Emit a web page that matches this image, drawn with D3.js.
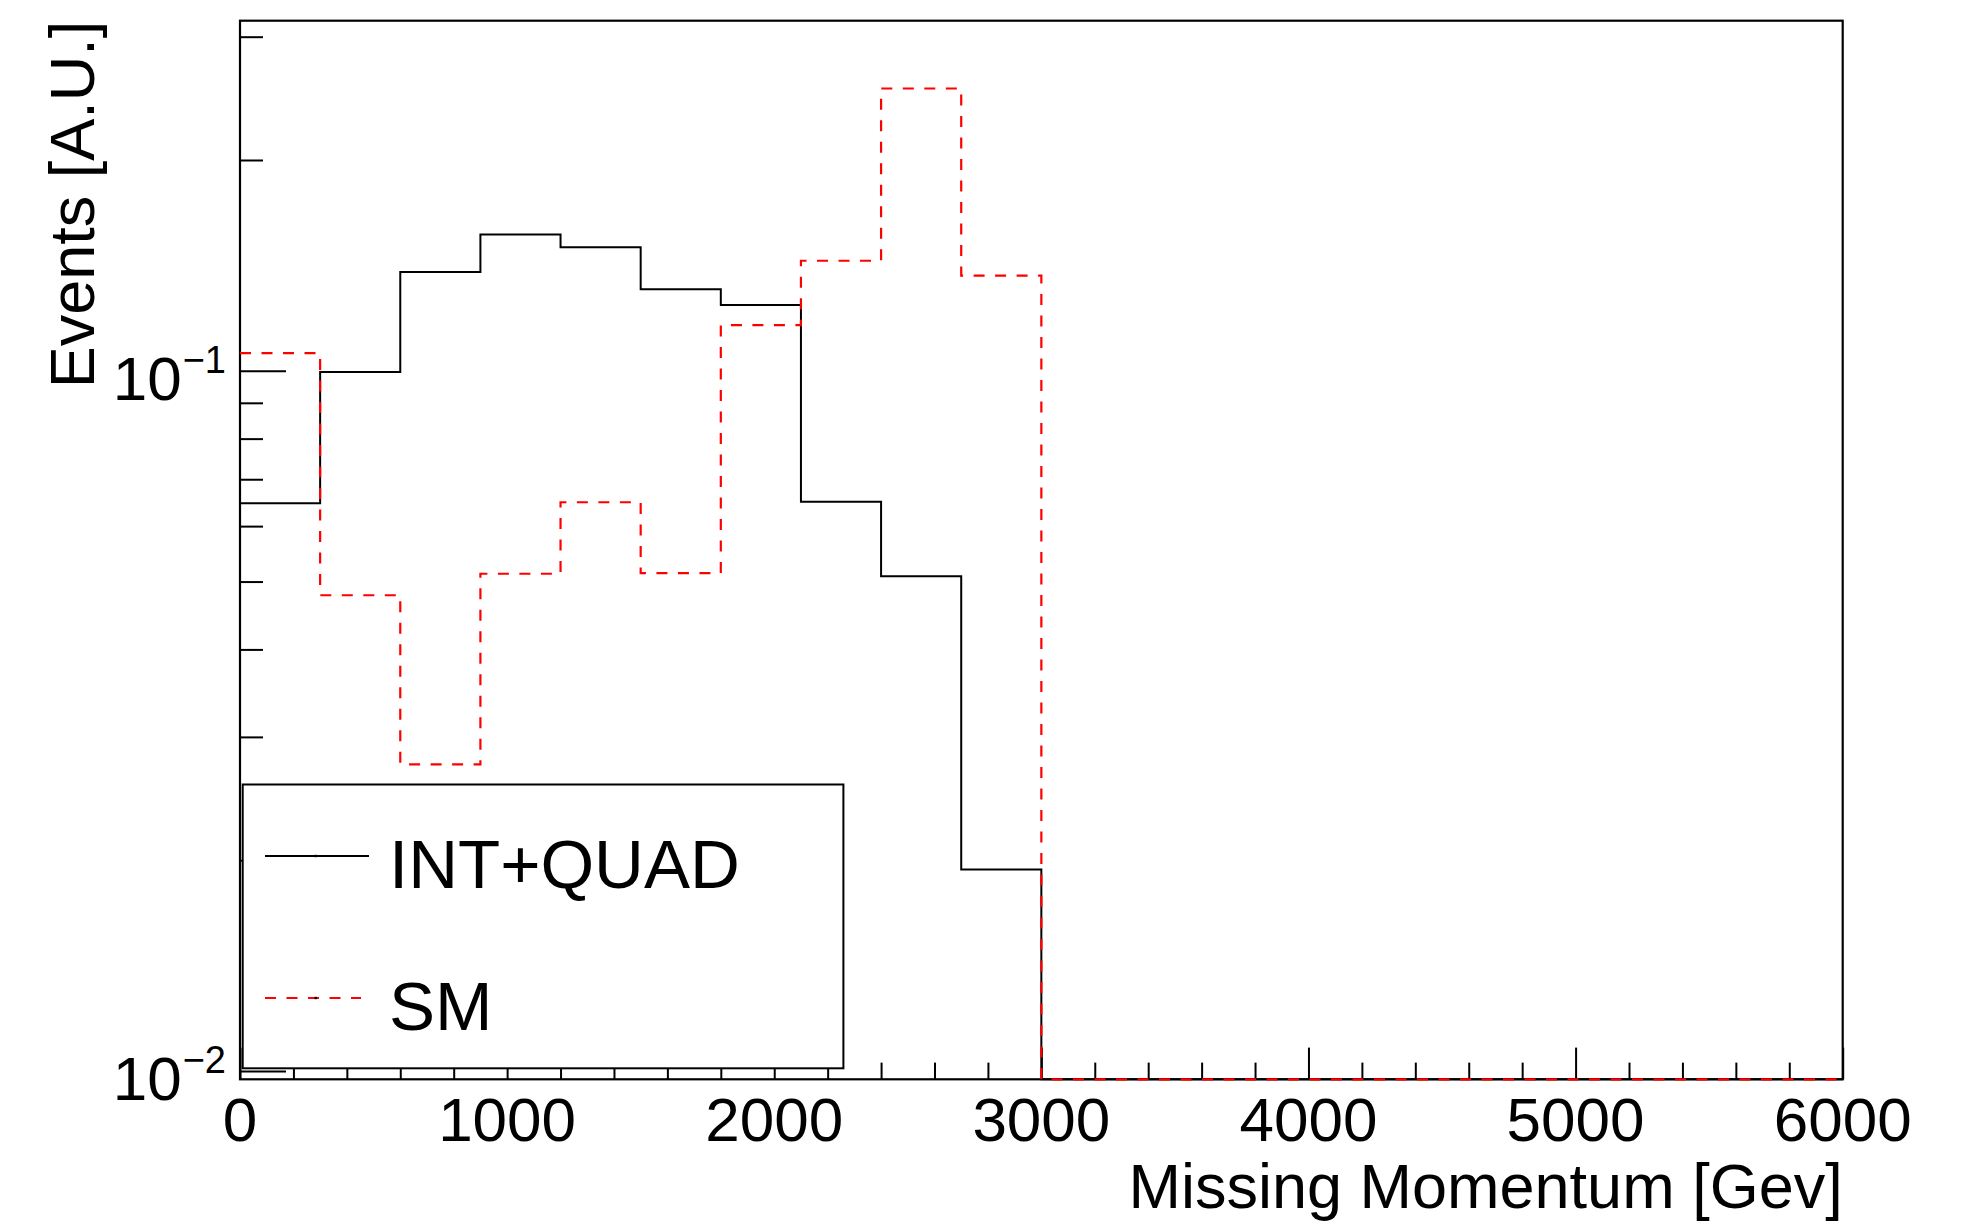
<!DOCTYPE html>
<html>
<head>
<meta charset="utf-8">
<script src="https://cdn.jsdelivr.net/npm/d3@7"></script>
<style>
  html, body { margin: 0; padding: 0; background: #fff; }
  svg { display: block; }
  text { font-family: "Liberation Sans", Arial, Helvetica, sans-serif; fill: #000; }
</style>
</head>
<body>
<svg id="chart" width="1962" height="1226"></svg>
<script>
// ---------------- data ----------------
const binLow = [0, 300, 600, 900, 1200, 1500, 1800, 2100, 2400, 2700,
                3000, 3300, 3600, 3900, 4200, 4500, 4800, 5100, 5400, 5700];
const binWidth = 300;
const intQuad = [0.0647, 0.0996, 0.1384, 0.1566, 0.1501, 0.1307, 0.1241, 0.0650, 0.0509, 0.0194,
                 0, 0, 0, 0, 0, 0, 0, 0, 0, 0];
const sm      = [0.1060, 0.0478, 0.0274, 0.0513, 0.0649, 0.0514, 0.1162, 0.1436, 0.2530, 0.1367,
                 0, 0, 0, 0, 0, 0, 0, 0, 0, 0];
const seriesNames = ["INT+QUAD", "SM"];
const xMajorTicks = [0, 1000, 2000, 3000, 4000, 5000, 6000];
const xMinorTicks = [200, 400, 600, 800, 1200, 1400, 1600, 1800, 2200, 2400, 2600, 2800,
                     3200, 3400, 3600, 3800, 4200, 4400, 4600, 4800, 5200, 5400, 5600, 5800];
const yMajorTicks = [0.01, 0.1];
const yMajorExp = ["−2", "−1"];
const yMinorTicks = [0.02, 0.03, 0.04, 0.05, 0.06, 0.07, 0.08, 0.09, 0.2, 0.3];
const xDomain = [0, 6000];
const yDomain = [0.00973, 0.3162];
const xTitle = "Missing Momentum [Gev]";
const yTitle = "Events [A.U.]";

// ---------------- layout ----------------
const L = 240, R = 1842.7, T = 20.7, B = 1079.3;
const svg = d3.select("#chart");

const x = d3.scaleLinear().domain(xDomain).range([L, R]);
const y = d3.scaleLog().domain(yDomain).range([B, T]);
const yv = v => y(Math.max(v, yDomain[0]));

// ---------------- axes ticks ----------------
const gx = svg.append("g").attr("transform", `translate(0,${B})`);
gx.call(d3.axisBottom(x).tickValues(xMajorTicks).tickSize(-31.7).tickFormat(""));
gx.append("g").call(d3.axisBottom(x).tickValues(xMinorTicks).tickSize(-16.7).tickFormat(""));
gx.selectAll(".domain").remove();
gx.selectAll("line").attr("stroke", "#000").attr("stroke-width", 2);

const gy = svg.append("g").attr("transform", `translate(${L},0)`);
gy.call(d3.axisLeft(y).tickValues(yMajorTicks).tickSize(-46).tickFormat(""));
gy.append("g").call(d3.axisLeft(y).tickValues(yMinorTicks).tickSize(-23).tickFormat(""));
gy.selectAll(".domain").remove();
gy.selectAll("line").attr("stroke", "#000").attr("stroke-width", 2);

// frame
svg.append("rect")
  .attr("x", L).attr("y", T).attr("width", R - L).attr("height", B - T)
  .attr("fill", "none").attr("stroke", "#000").attr("stroke-width", 2.2);

// tick labels
svg.append("g").selectAll("text").data(xMajorTicks).join("text")
  .attr("x", d => x(d)).attr("y", 1141)
  .attr("text-anchor", "middle").attr("font-size", 62)
  .text(d => d);

const yl = svg.append("g").selectAll("text").data(yMajorTicks).join("text")
  .attr("x", 226).attr("y", d => y(d) + 29)
  .attr("text-anchor", "end").attr("font-size", 62);
yl.append("tspan").text("10");
yl.append("tspan").attr("dx", 1).attr("dy", -27).attr("font-size", 38).text((d, i) => yMajorExp[i]);

// axis titles
svg.append("text")
  .attr("x", R).attr("y", 1208)
  .attr("text-anchor", "end").attr("font-size", 63)
  .text(xTitle);
svg.append("text")
  .attr("transform", `translate(94,${T}) rotate(-90)`)
  .attr("text-anchor", "end").attr("font-size", 63)
  .text(yTitle);

// ---------------- histograms ----------------
function stepPoints(vals) {
  const pts = binLow.map((b, i) => [b, vals[i]]);
  pts.push([binLow[binLow.length - 1] + binWidth, vals[vals.length - 1]]);
  return pts;
}
const line = d3.line().x(d => x(d[0])).y(d => yv(d[1])).curve(d3.curveStepAfter);

svg.append("path").datum(stepPoints(intQuad))
  .attr("d", line).attr("fill", "none")
  .attr("stroke", "#000").attr("stroke-width", 2);

svg.append("path").datum(stepPoints(sm))
  .attr("d", line).attr("fill", "none")
  .attr("stroke", "#ff0000").attr("stroke-width", 2.2)
  .attr("stroke-dasharray", "11,10.5");

// ---------------- legend ----------------
const lg = svg.append("g");
lg.append("rect")
  .attr("x", 242.7).attr("y", 784.5).attr("width", 600.7).attr("height", 283.8)
  .attr("fill", "#fff").attr("stroke", "#000").attr("stroke-width", 2);

const legendItems = [
  { name: seriesNames[0], color: "#000", dash: null, ly: 856, ty: 888, x2: 369 },
  { name: seriesNames[1], color: "#ff0000", dash: "11,10.5", ly: 998, ty: 1030, x2: 361 }
];
legendItems.forEach(it => {
  lg.append("line")
    .attr("x1", 265).attr("x2", it.x2).attr("y1", it.ly).attr("y2", it.ly)
    .attr("stroke", it.color).attr("stroke-width", 2)
    .attr("stroke-dasharray", it.dash);
  lg.append("rect")
    .attr("x", 314.5).attr("y", it.ly - 1.2).attr("width", 2.4).attr("height", 2.4)
    .attr("fill", "#000");
  lg.append("text")
    .attr("x", 389).attr("y", it.ty)
    .attr("font-size", 69)
    .text(it.name);
});
</script>
</body>
</html>
